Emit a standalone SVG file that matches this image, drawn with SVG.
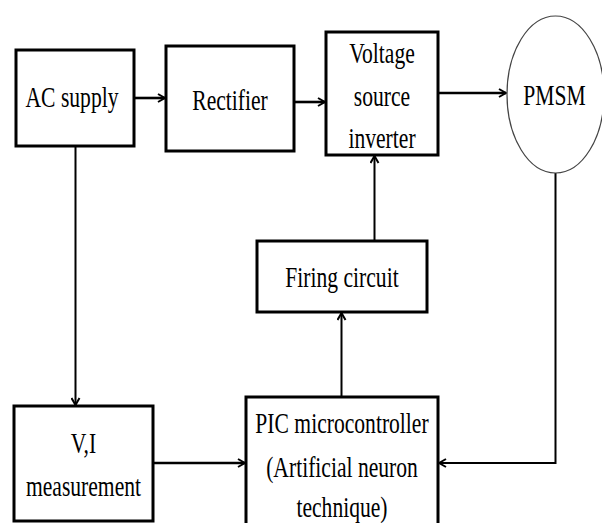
<svg xmlns="http://www.w3.org/2000/svg" width="602" height="523" viewBox="0 0 602 523">
  <style>
    .box { fill: #ffffff; stroke: #000000; stroke-width: 3; }
    .motor { fill: #ffffff; stroke: #444444; stroke-width: 1.2; }
    .wire { fill: none; stroke: #000000; stroke-width: 2; }
    .wire.thick { stroke-width: 2.6; }
    .lbl { font-family: "Liberation Serif", "Times New Roman", serif; font-size: 30px; fill: #000000; text-anchor: middle; }
  </style>
  <defs>
    <marker id="arrow" viewBox="0 0 10 10" refX="9" refY="5" markerWidth="10" markerHeight="10" markerUnits="userSpaceOnUse" orient="auto">
      <path d="M2,1 L9,5 L2,9" fill="none" stroke="#000000" stroke-width="2"/>
    </marker>
  </defs>

  <rect width="602" height="523" fill="#ffffff"/>

  <!-- connectors -->
  <g id="connectors">
    <line class="wire thick" x1="134" y1="98" x2="165" y2="98" marker-end="url(#arrow)"/>
    <line class="wire thick" x1="294" y1="102" x2="325" y2="102" marker-end="url(#arrow)"/>
    <line class="wire thick" x1="438" y1="93" x2="506" y2="93" marker-end="url(#arrow)"/>
    <line class="wire" x1="75.5" y1="146" x2="75.5" y2="405" marker-end="url(#arrow)"/>
    <line class="wire" x1="374.5" y1="241" x2="374.5" y2="156" marker-end="url(#arrow)"/>
    <line class="wire" x1="341.5" y1="397" x2="341.5" y2="313" marker-end="url(#arrow)"/>
    <line class="wire thick" x1="153" y1="463" x2="245" y2="463" marker-end="url(#arrow)"/>
    <polyline class="wire" points="555.5,173 555.5,463 439,463" marker-end="url(#arrow)"/>
  </g>

  <!-- nodes -->
  <g id="ac-supply">
    <rect class="box" x="16" y="50" width="118" height="96"/>
    <text class="lbl" transform="translate(72,107) scale(0.72,1)">AC supply</text>
  </g>

  <g id="rectifier">
    <rect class="box" x="166" y="46" width="128" height="105"/>
    <text class="lbl" transform="translate(230,110) scale(0.72,1)">Rectifier</text>
  </g>

  <g id="inverter">
    <rect class="box" x="326" y="32" width="112" height="123"/>
    <text class="lbl" transform="translate(382,63) scale(0.72,1)">Voltage</text>
    <text class="lbl" transform="translate(382,106) scale(0.72,1)">source</text>
    <text class="lbl" transform="translate(382,148) scale(0.72,1)">inverter</text>
  </g>

  <g id="pmsm">
    <ellipse class="motor" cx="555.5" cy="94.5" rx="48.5" ry="78.5"/>
    <text class="lbl" transform="translate(554.5,105) scale(0.72,1)">PMSM</text>
  </g>

  <g id="firing-circuit">
    <rect class="box" x="257" y="241" width="170" height="71"/>
    <text class="lbl" transform="translate(342,287) scale(0.72,1)">Firing circuit</text>
  </g>

  <g id="vi-measurement">
    <rect class="box" x="14" y="406" width="139" height="115"/>
    <text class="lbl" transform="translate(83.5,453) scale(0.72,1)">V,I</text>
    <text class="lbl" transform="translate(83.5,496) scale(0.72,1)">measurement</text>
  </g>

  <g id="pic-controller">
    <rect class="box" x="246" y="397" width="192" height="140"/>
    <text class="lbl" transform="translate(342,433) scale(0.72,1)">PIC microcontroller</text>
    <text class="lbl" transform="translate(342,477) scale(0.72,1)">(Artificial neuron</text>
    <text class="lbl" transform="translate(342,517) scale(0.72,1)">technique)</text>
  </g>
</svg>
